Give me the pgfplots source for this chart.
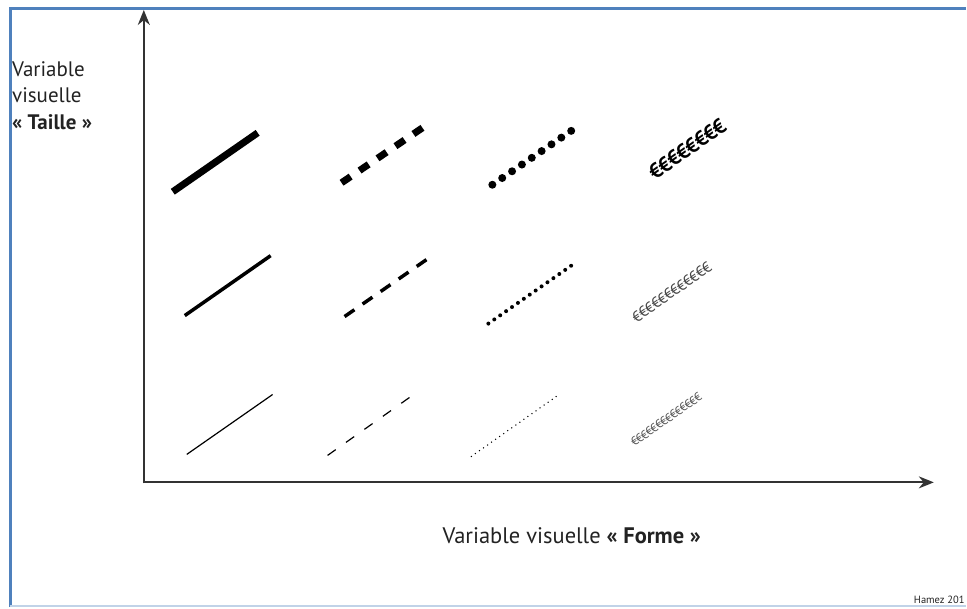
\documentclass[border=0pt]{standalone}
\usepackage{pgfplots}
\pgfplotsset{compat=1.18}
\usetikzlibrary{arrows.meta}
\usepackage{fontspec}
\setmainfont{PT Sans}
\definecolor{frame}{HTML}{4F81BD}
\definecolor{ink}{HTML}{222222}
\definecolor{axisgray}{HTML}{333333}
\definecolor{thin}{HTML}{555555}

\begin{document}
\begin{tikzpicture}
\begin{axis}[
  scale only axis, width=967pt, height=608pt,
  xmin=0, xmax=967, ymin=0, ymax=608,
  hide axis, clip=false,
  every axis plot/.append style={line cap=butt},
]
% invisible frame for the bounding box
\addplot[draw=none] coordinates {(0,0) (967,608)};
% picture border
\addplot[frame, line width=2.5pt] coordinates {(10.5,0) (10.5,599.5) (967,599.5)};
\addplot[frame!35, line width=1.5pt] coordinates {(10.5,1) (967,1)};

% axes
\addplot[axisgray, line width=2pt, -{Stealth[length=15pt,width=12pt]}] coordinates {(144,124) (144,598)};
\addplot[axisgray, line width=2pt, -{Stealth[length=15pt,width=12pt]}] coordinates {(143,125) (935,125)};

% --- large ---
\addplot[black, line width=7pt] coordinates {(173,416) (258,475)};
\addplot[black, line width=7pt, dash pattern=on 11pt off 10.75pt] coordinates {(342,425) (423,480)};
\addplot[black, line width=8pt, line cap=round, dash pattern=on 0pt off 11.95pt] coordinates {(493,423) (572,477)};
\addplot[only marks, mark=none, nodes near coords={€€€€€€€€},
  every node near coord/.style={rotate=35, anchor=center, inner sep=0pt, text=black,
    font=\bfseries\fontsize{21}{21}\selectfont\addfontfeature{LetterSpace=-4}}]
  coordinates {(688,459)};

% --- medium ---
\addplot[black, line width=3.5pt] coordinates {(185,292) (271,352)};
\addplot[black, line width=3.5pt, dash pattern=on 12pt off 10pt] coordinates {(345,291) (427,348)};
\addplot[black, line width=4pt, line cap=round, dash pattern=on 0pt off 7.22pt] coordinates {(489,284) (572,342)};
\addplot[only marks, mark=none, nodes near coords={€€€€€€€€€€€€},
  every node near coord/.style={rotate=35, anchor=center, inner sep=0pt, text=thin!80!black,
    font=\fontsize{15}{15}\selectfont\addfontfeature{LetterSpace=-3}}]
  coordinates {(672.5,315.5)};

% --- small ---
\addplot[thin, line width=1.2pt] coordinates {(187,153) (273,213)};
\addplot[thin, line width=1.2pt, dash pattern=on 10pt off 12.6pt] coordinates {(328,152) (410,210)};
\addplot[thin, line width=1.5pt, line cap=round, dash pattern=on 0pt off 4.95pt] coordinates {(472,151) (557,211)};
\addplot[only marks, mark=none, nodes near coords={€€€€€€€€€€€€€€},
  every node near coord/.style={rotate=35, anchor=center, inner sep=0pt, text=thin,
    font=\fontsize{12}{12}\selectfont\addfontfeature{LetterSpace=-5}}]
  coordinates {(667,188)};

% labels
\node[anchor=base west, text=ink, inner sep=0pt, font=\fontsize{21}{25}\selectfont] at (axis cs:12,531) {Variable};
\node[anchor=base west, text=ink, inner sep=0pt, font=\fontsize{21}{25}\selectfont] at (axis cs:12,505) {visuelle};
\node[anchor=base west, text=ink, inner sep=0pt, font=\fontsize{21}{25}\selectfont] at (axis cs:12,478) {\textbf{« Taille »}};
\node[anchor=base west, text=ink, inner sep=0pt, font=\fontsize{22.5}{26}\selectfont] at (axis cs:443,64) {Variable visuelle \textbf{« Forme »}};
\node[anchor=base east, text=ink, inner sep=0pt, font=\fontsize{10.5}{12}\selectfont] at (axis cs:966,4) {Hamez 201};
\end{axis}
\end{tikzpicture}
\end{document}
